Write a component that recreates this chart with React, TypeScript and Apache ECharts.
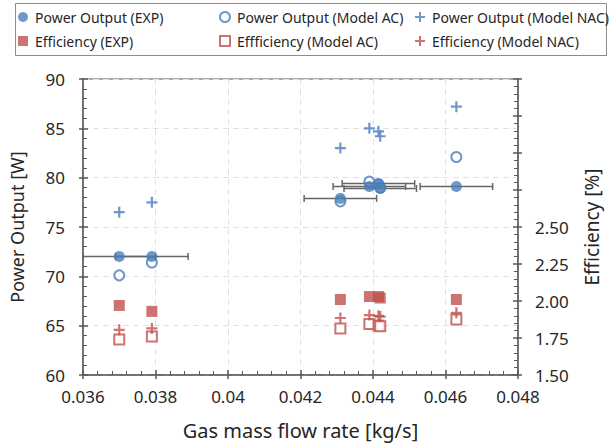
import React, { useEffect, useRef } from 'react';
import * as echarts from 'echarts';

// Gas mass flow rate [kg/s]
const flowRate = [0.037, 0.0379, 0.0431, 0.0439, 0.04415, 0.0442, 0.0463];
const flowRateError = [0.001, 0.001, 0.001, 0.001, 0.001, 0.001, 0.001];
// Power output [W]
const powerExp = [72.0, 72.0, 77.9, 79.1, 79.4, 78.9, 79.1];
const powerModelAC = [70.1, 71.4, 77.6, 79.6, 79.3, 79.0, 82.1];
const powerModelNAC = [76.5, 77.5, 83.0, 85.0, 84.7, 84.2, 87.2];
// Efficiency [%]
const effExp = [1.97, 1.93, 2.01, 2.03, 2.03, 2.02, 2.01];
const effModelAC = [1.74, 1.76, 1.815, 1.845, 1.835, 1.83, 1.875];
const effModelNAC = [1.805, 1.815, 1.885, 1.905, 1.9, 1.895, 1.92];

const seriesNames = [
  'Power Output (EXP)',
  'Power Output (Model AC)',
  'Power Output (Model NAC)',
  'Efficiency (EXP)',
  'Effficiency (Model AC)',
  'Efficiency (Model NAC)',
];

const BLUE = '#4A7EBB';
const RED = '#C0504D';
const AXIS = '#595959';
const TEXT = '#262626';
const GRID = '#e2e2e2';
const FONT = 'Noto Sans';
const PLUS = 'path://M4,0H6V4H10V6H6V10H4V6H0V4H4Z';

const pairs = (ys: number[]) => ys.map((y, i) => [flowRate[i], y]);

export default function App() {
  const ref = useRef<HTMLDivElement>(null);
  useEffect(() => {
    if (!ref.current) return;
    const chart = echarts.init(ref.current, null, { renderer: 'svg' });

    const legendPos = [
      [18, 10],
      [219, 10],
      [415, 10],
      [18, 34],
      [219, 34],
      [415, 34],
    ];

    const xFmt = (v: number) => String(parseFloat(v.toFixed(3)));

    const option: any = {
      animation: false,
      backgroundColor: '#fff',
      textStyle: { fontFamily: FONT },
      grid: {
        left: 82,
        right: 84,
        top: 79,
        bottom: 71,
        show: true,
        borderColor: AXIS,
        borderWidth: 1,
        backgroundColor: 'transparent',
      },
      graphic: [
        {
          type: 'rect',
          shape: { x: 15.5, y: 3.5, width: 591, height: 52 },
          style: { fill: 'none', stroke: '#8c8c8c', lineWidth: 1 },
          silent: true,
        },
      ],
      legend: seriesNames.map((n, i) => ({
        data: [n],
        left: legendPos[i][0],
        top: legendPos[i][1],
        padding: 0,
        itemWidth: 10,
        itemHeight: 10,
        itemGap: 0,
        selectedMode: false,
        textStyle: { fontFamily: FONT, fontSize: 14, color: TEXT, padding: [0, 0, 0, 2] },
      })),
      xAxis: [
        {
          type: 'value',
          min: 0.036,
          max: 0.048,
          interval: 0.002,
          position: 'bottom',
          name: 'Gas mass flow rate [kg/s]',
          nameLocation: 'middle',
          nameGap: 45,
          nameTextStyle: { fontFamily: FONT, fontSize: 20, color: TEXT },
          axisLine: { show: true, onZero: false, lineStyle: { color: AXIS, width: 1.5 } },
          axisTick: { show: true, inside: true, length: 5, lineStyle: { color: AXIS, width: 1.5 } },
          minorTick: { show: true, splitNumber: 5, length: 4, lineStyle: { color: AXIS, width: 1 } },
          axisLabel: { formatter: xFmt, fontFamily: FONT, fontSize: 17, color: TEXT, margin: 13 },
          splitLine: { show: true, lineStyle: { color: GRID, type: [6, 4], width: 1 } },
        },
        {
          type: 'value',
          min: 0.036,
          max: 0.048,
          interval: 0.002,
          position: 'bottom',
          axisLine: { show: false },
          axisTick: { show: true, inside: false, length: 4, lineStyle: { color: AXIS, width: 1.5 } },
          axisLabel: { show: false },
          splitLine: { show: false },
        },
      ],
      yAxis: [
        {
          type: 'value',
          min: 60,
          max: 90,
          interval: 5,
          position: 'left',
          name: 'Power Output [W]',
          nameLocation: 'middle',
          nameGap: 57,
          nameTextStyle: { fontFamily: FONT, fontSize: 18, color: TEXT },
          axisLine: { show: true, onZero: false, lineStyle: { color: AXIS, width: 1.5 } },
          axisTick: { show: true, inside: true, length: 5, lineStyle: { color: AXIS, width: 1.5 } },
          minorTick: { show: true, splitNumber: 5, length: 4, lineStyle: { color: AXIS, width: 1 } },
          axisLabel: { fontFamily: FONT, fontSize: 17, color: TEXT, margin: 18 },
          splitLine: { show: true, lineStyle: { color: GRID, type: [6, 4], width: 1 } },
        },
        {
          type: 'value',
          min: 1.5,
          max: 3.5,
          interval: 0.25,
          position: 'right',
          name: 'Efficiency [%]',
          nameLocation: 'middle',
          nameGap: 64,
          nameTextStyle: { fontFamily: FONT, fontSize: 19, color: TEXT },
          axisLine: { show: true, onZero: false, lineStyle: { color: AXIS, width: 1.5 } },
          axisTick: { show: true, inside: true, length: 5, lineStyle: { color: AXIS, width: 1.5 } },
          minorTick: { show: true, splitNumber: 5, length: 4, lineStyle: { color: AXIS, width: 1 } },
          axisLabel: {
            fontFamily: FONT,
            fontSize: 17,
            color: TEXT,
            margin: 17,
            formatter: (v: number) => (v <= 2.5 + 1e-9 ? v.toFixed(2) : ''),
          },
          splitLine: { show: false },
        },
        {
          type: 'value',
          min: 60,
          max: 90,
          interval: 5,
          position: 'left',
          axisLine: { show: false },
          axisTick: { show: true, inside: false, length: 4, lineStyle: { color: AXIS, width: 1.5 } },
          axisLabel: { show: false },
          splitLine: { show: false },
        },
        {
          type: 'value',
          min: 1.5,
          max: 3.5,
          interval: 0.25,
          position: 'right',
          axisLine: { show: false },
          axisTick: { show: true, inside: false, length: 4, lineStyle: { color: AXIS, width: 1.5 } },
          axisLabel: { show: false },
          splitLine: { show: false },
        },
      ],
      series: [
        {
          name: seriesNames[0],
          type: 'scatter',
          yAxisIndex: 0,
          symbol: 'circle',
          symbolSize: 11,
          itemStyle: { color: BLUE },
          data: pairs(powerExp),
          z: 5,
        },
        {
          name: seriesNames[1],
          type: 'scatter',
          yAxisIndex: 0,
          symbol: 'circle',
          symbolSize: 10,
          itemStyle: { color: '#fff', borderColor: BLUE, borderWidth: 2 },
          data: pairs(powerModelAC),
          z: 3,
        },
        {
          name: seriesNames[2],
          type: 'scatter',
          yAxisIndex: 0,
          symbol: PLUS,
          symbolSize: 11,
          itemStyle: { color: BLUE },
          data: pairs(powerModelNAC),
          z: 5,
        },
        {
          name: seriesNames[3],
          type: 'scatter',
          yAxisIndex: 1,
          symbol: 'rect',
          symbolSize: 11,
          itemStyle: { color: RED },
          data: pairs(effExp),
          z: 5,
        },
        {
          name: seriesNames[4],
          type: 'scatter',
          yAxisIndex: 1,
          symbol: 'rect',
          symbolSize: 10,
          itemStyle: { color: '#fff', borderColor: RED, borderWidth: 2 },
          data: pairs(effModelAC),
          z: 3,
        },
        {
          name: seriesNames[5],
          type: 'scatter',
          yAxisIndex: 1,
          symbol: PLUS,
          symbolSize: 11,
          itemStyle: { color: RED },
          data: pairs(effModelNAC),
          z: 5,
        },
        {
          name: 'errorbars',
          type: 'custom',
          yAxisIndex: 0,
          z: 4,
          silent: true,
          encode: { x: 0, y: 1 },
          data: powerExp.map((y, i) => [flowRate[i], y, flowRateError[i]]),
          renderItem: (params: any, api: any) => {
            const x = api.value(0);
            const y = api.value(1);
            const e = api.value(2);
            const l = api.coord([x - e, y]);
            const r = api.coord([x + e, y]);
            const c = 3.5;
            const st = { stroke: '#666666', lineWidth: 1.5 };
            return {
              type: 'group',
              children: [
                { type: 'line', shape: { x1: l[0], y1: l[1], x2: r[0], y2: r[1] }, style: st },
                { type: 'line', shape: { x1: l[0], y1: l[1] - c, x2: l[0], y2: l[1] + c }, style: st },
                { type: 'line', shape: { x1: r[0], y1: r[1] - c, x2: r[0], y2: r[1] + c }, style: st },
              ],
            };
          },
        },
      ],
    };

    chart.setOption(option);
    return () => chart.dispose();
  }, []);

  return (
    <div
      ref={ref}
      style={{ position: 'fixed', left: 0, top: 0, width: 609, height: 446, background: '#fff' }}
    />
  );
}
